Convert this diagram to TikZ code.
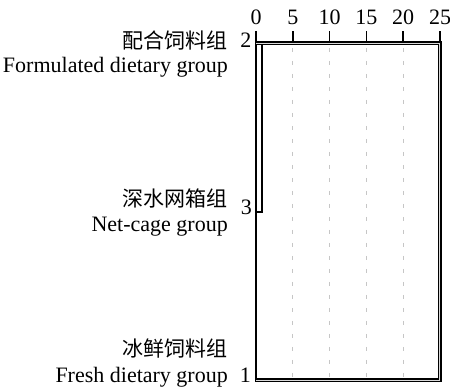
\documentclass[tikz,border=0pt]{standalone}
\usepackage{fontspec}
\setmainfont{Liberation Serif}
\newfontfamily\cjk{Noto Sans CJK SC}
\begin{document}
\begin{tikzpicture}[x=1pt,y=-1pt,
  txt/.style={inner sep=0pt, font=\fontsize{22}{22}\selectfont},
  cjktxt/.style={inner sep=0pt, font=\fontsize{21}{21}\selectfont\cjk},
  axisline/.style={line width=1.6pt, black},
  gridline/.style={gray!45, line width=1pt, dash pattern=on 4pt off 9pt},
  thinlink/.style={line width=1.5pt, black, line join=miter},
  thicklink/.style={line width=1.3pt, black, double=gray!30, double distance=1.4pt, line join=miter}
]
\useasboundingbox (0,0) rectangle (450,387);

% axis
\coordinate (ax0) at (256,42);
\coordinate (ax25) at (440,42);
\draw[axisline] (ax0) -- (ax25);
\foreach \k/\v in {0/0,1/5,2/10,3/15,4/20,5/25}{
  \coordinate (t\k) at ({256+36.8*\k},42);
  \coordinate (tt\k) at ({256+36.8*\k},31);
  \draw[axisline] (t\k) -- (tt\k);
  \node[txt, anchor=base] (tl\k) at ({256+36.8*\k},25) {\v};
}
% grid
\foreach \k in {1,2,3,4}{
  \coordinate (g\k a) at ({256+36.8*\k},48);
  \coordinate (g\k b) at ({256+36.8*\k},378);
  \draw[gridline] (g\k a) -- (g\k b);
}
% left frame line
\coordinate (lf) at (256,382);
\draw[axisline] (tt0) -- (lf);

% dendrogram
\coordinate (leaf2) at (256,43.5);
\coordinate (leaf3) at (256,212);
\coordinate (leaf1) at (256,380.5);
\coordinate (j23top) at (262,45);
\coordinate (j23bot) at (262,212);
\coordinate (jtr) at (439.5,43.5);
\coordinate (jbr) at (439.5,380.5);
\draw[thinlink] (j23top) -- (j23bot) -- (leaf3);
\draw[thicklink] (leaf2) -- (jtr) -- (jbr) -- (leaf1);

% leaf numbers
\node[txt, anchor=base east] (n2) at (251.5,48) {2};
\node[txt, anchor=base east] (n3) at (252,215) {3};
\node[txt, anchor=base east] (n1) at (251,383) {1};

% labels
\node[cjktxt, anchor=east] (c2) at (228,40) {配合饲料组};
\node[txt, anchor=base east] (e2) at (228,73) {Formulated dietary group};
\node[cjktxt, anchor=east] (c3) at (228,198.5) {深水网箱组};
\node[txt, anchor=base east] (e3) at (228,231.5) {Net-cage group};
\node[cjktxt, anchor=east] (c1) at (228,349) {冰鲜饲料组};
\node[txt, anchor=base east] (e1) at (228,383) {Fresh dietary group};
\end{tikzpicture}
\end{document}
